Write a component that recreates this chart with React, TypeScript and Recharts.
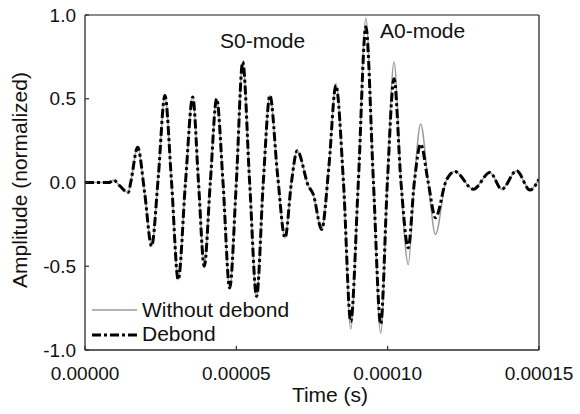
import React from 'react';
import { LineChart, Line, XAxis, YAxis, Legend } from 'recharts';

// time axis in microseconds (peaks, troughs, crossings)
const timeUs = [
  0, 8.0, 9.4, 11.5, 14.3, 15.1, 17.4, 19.7, 22.0, 24.2,
  26.4, 28.6, 30.8, 33.2, 35.6, 37.5, 39.4, 41.4, 43.5, 45.6,
  47.8, 50.0, 52.1, 54.4, 56.7, 58.9, 61.1, 63.6, 66.1, 68.2,
  70.1, 73.8, 75.4, 78.2, 80.6, 82.9, 85.4, 87.8, 90.3, 92.8,
  95.3, 97.7, 99.9, 102.1, 104.4, 106.8, 108.8, 110.9, 113.4, 115.8,
  119.3, 122.2, 128.3, 133.8, 137.7, 142.6, 147.0, 150.0,
];

const debond = [
  0, 0, 0.014, -0.02, -0.06, 0, 0.21, -0.06, -0.38, 0.03,
  0.52, 0, -0.58, 0, 0.51, 0, -0.5, 0, 0.5, 0,
  -0.63, 0, 0.72, 0, -0.68, 0, 0.52, 0.05, -0.33, 0,
  0.19, -0.02, -0.07, -0.28, 0.1, 0.58, 0, -0.83, 0, 0.93,
  0, -0.845, 0, 0.62, 0, -0.39, 0, 0.23, 0, -0.21,
  0.01, 0.065, -0.04, 0.06, -0.04, 0.07, -0.045, 0.02,
];

const withoutDebond = [
  0, 0, 0.014, -0.02, -0.06, 0, 0.21, -0.06, -0.38, 0.03,
  0.52, 0, -0.58, 0, 0.51, 0, -0.5, 0, 0.5, 0,
  -0.63, 0, 0.72, 0, -0.68, 0, 0.52, 0.05, -0.33, 0,
  0.19, -0.02, -0.07, -0.28, 0.1, 0.59, 0, -0.875, 0, 0.98,
  0, -0.9, 0, 0.72, 0, -0.49, 0, 0.35, 0, -0.31,
  0.01, 0.065, -0.04, 0.06, -0.04, 0.07, -0.045, 0.02,
];

const xTicks = [0, 0.00005, 0.0001, 0.00015];
const yTicks = [-1, -0.5, 0, 0.5, 1];

const data = timeUs.map((t, i) => ({
  time: t * 1e-6,
  without: withoutDebond[i],
  debond: debond[i],
}));

const FONT = '"Liberation Sans", Arial, Helvetica, sans-serif';
const AXIS = '#2a2a2a';
const GRAY = '#9a9a9a';
const DASH = '9 3 3 3';

const YTick = ({ x, y, payload }: any) => (
  <g>
    <line x1={x + 9} x2={x + 13} y1={y} y2={y} stroke={AXIS} strokeWidth={1.2} />
    <text x={x} y={y} dy="0.355em" textAnchor="end" fontSize={19} fill="#111" fontFamily={FONT}>
      {Number(payload.value).toFixed(1)}
    </text>
  </g>
);

const XTick = ({ x, y, payload }: any) => (
  <g>
    <line x1={x} x2={x} y1={y - 17} y2={y - 21} stroke={AXIS} strokeWidth={1.2} />
    <text x={x} y={y} dy="0.71em" textAnchor="middle" fontSize={19} fill="#111" fontFamily={FONT}>
      {Number(payload.value).toFixed(5)}
    </text>
  </g>
);

const LegendBox = () => (
  <svg width={220} height={55} style={{ display: 'block' }}>
    <line x1={7} x2={52} y1={15} y2={15} stroke={GRAY} strokeWidth={1.5} />
    <text x={57} y={22} fontSize={21} fill="#111" fontFamily={FONT}>Without debond</text>
    <line x1={7} x2={52} y1={40} y2={40} stroke="#000" strokeWidth={3} strokeDasharray={DASH} />
    <text x={57} y={46} fontSize={21} fill="#111" fontFamily={FONT}>Debond</text>
  </svg>
);

export default function App() {
  return (
    <div style={{ position: 'absolute', left: 0, top: 0, background: '#fff' }}>
      <LineChart width={580} height={414} data={data} margin={{ top: 14, right: 40, bottom: 34, left: 25 }}>
        <XAxis
          dataKey="time"
          type="number"
          domain={[0, 0.00015]}
          ticks={xTicks}
          height={30}
          tickSize={0}
          tickMargin={17}
          tickLine={false}
          tick={<XTick />}
          stroke={AXIS}
          strokeWidth={1.3}
          allowDataOverflow
        />
        <XAxis
          xAxisId="top"
          dataKey="time"
          orientation="top"
          type="number"
          domain={[0, 0.00015]}
          height={1}
          tick={false}
          tickLine={false}
          stroke="#666"
          strokeWidth={1.3}
        />
        <YAxis
          type="number"
          domain={[-1, 1]}
          ticks={yTicks}
          width={60}
          tickSize={0}
          tickMargin={9}
          tickLine={false}
          tick={<YTick />}
          stroke={AXIS}
          strokeWidth={1.3}
        />
        <YAxis
          yAxisId="right"
          orientation="right"
          type="number"
          domain={[-1, 1]}
          width={1}
          tick={false}
          tickLine={false}
          stroke={AXIS}
          strokeWidth={1.3}
        />
        <Legend
          layout="horizontal"
          verticalAlign="middle"
          align="center"
          content={<LegendBox />}
          wrapperStyle={{ left: 85, top: 295, width: 220 }}
        />
        <Line type="monotone" dataKey="without" name="Without debond" stroke={GRAY} strokeWidth={1.5} dot={false} isAnimationActive={false} />
        <Line type="monotone" dataKey="debond" name="Debond" stroke="#000" strokeWidth={3} strokeDasharray={DASH} dot={false} isAnimationActive={false} />
        <text x={27} y={180} transform="rotate(-90, 27, 180)" textAnchor="middle" fontSize={21} fill="#111" fontFamily={FONT}>
          Amplitude (normalized)
        </text>
        <text x={330} y={402} textAnchor="middle" fontSize={21} fill="#111" fontFamily={FONT}>
          Time (s)
        </text>
        <text x={220} y={48} fontSize={21} fill="#111" fontFamily={FONT}>S0-mode</text>
        <text x={380} y={38} fontSize={21} fill="#111" fontFamily={FONT}>A0-mode</text>
      </LineChart>
    </div>
  );
}
